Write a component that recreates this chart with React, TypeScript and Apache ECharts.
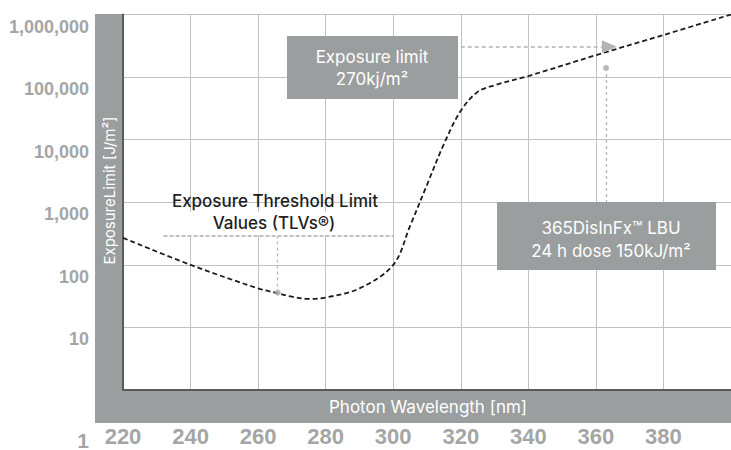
import React, { useEffect, useRef } from 'react';
import * as echarts from 'echarts';

// Photon wavelength [nm] and exposure limit [J/m²]
const wavelengths = [220, 240, 260, 265, 270, 275, 280, 290, 300, 305, 310, 315, 320, 325, 330, 340, 360, 380, 400];
const exposureLimits = [270, 100, 42, 36, 31, 28.5, 30, 42, 100, 420, 1900, 8500, 29000, 58000, 74000, 104000, 224000, 470000, 1000000];

const xTickLabels = ['220', '240', '260', '280', '300', '320', '340', '360', '380'];
const yTickLabels = ['1', '10', '100', '1,000', '10,000', '100,000', '1,000,000'];

// annotation anchors (data coordinates)
const tlvPoint = [265.8, 36];
const tlvBracket = [[232, 288], [300, 288]];
const lbuPoint = [363, 140000];
const lbuBoxTopValue = 1000;
const limitArrow = [[320, 305000], [364, 305000]];

const BAND = '#9b9e9e';
const LABEL = '#a4a6a6';

export default function App() {
  const ref = useRef<HTMLDivElement>(null);
  useEffect(() => {
    if (!ref.current) return;
    const chart = echarts.init(ref.current, null, { renderer: 'svg' });
    const boxFont = '17px Inter, "Noto Sans", sans-serif';
    chart.setOption({
      animation: false,
      grid: { left: 123, top: 14.5, right: 0, bottom: 60, containLabel: false, outerBoundsMode: 'none' },
      xAxis: {
        type: 'value',
        min: 220,
        max: 400,
        interval: 20,
        axisLine: { show: true, lineStyle: { color: '#5a5a5a', width: 2 } },
        axisTick: { show: false },
        splitLine: { show: true, lineStyle: { color: '#c2c2c2', width: 1 } },
        axisLabel: {
          margin: 35,
          color: LABEL,
          fontSize: 22,
          fontWeight: 'bold',
          fontFamily: '"Liberation Sans", Arial, sans-serif',
          formatter: (v: number) => {
            const i = Math.round((v - 220) / 20);
            return xTickLabels[i] ?? '';
          },
        },
      },
      yAxis: {
        type: 'log',
        logBase: 10,
        min: 1,
        max: 1000000,
        axisLine: { show: true, lineStyle: { color: '#5a5a5a', width: 2 } },
        axisTick: { show: false },
        splitLine: { show: true, lineStyle: { color: '#c2c2c2', width: 1 } },
        axisLabel: {
          margin: 34,
          color: LABEL,
          fontSize: 18,
          fontWeight: 'bold',
          verticalAlign: 'top',
          padding: [3, 0, 0, 0],
          fontFamily: '"Liberation Sans", Arial, sans-serif',
          formatter: (v: number) => {
            const i = Math.round(Math.log10(v));
            return i === 0 ? '' : yTickLabels[i] ?? '';
          },
        },
      },
      series: [
        {
          type: 'line',
          data: wavelengths.map((w, i) => [w, exposureLimits[i]]),
          showSymbol: false,
          smooth: 0.35,
          lineStyle: { color: '#1c1c1c', width: 1.8, type: [5, 3] },
          z: 3,
        },
        {
          type: 'scatter',
          data: [tlvPoint, lbuPoint],
          symbolSize: 6,
          itemStyle: { color: '#a9a9a9' },
          z: 4,
          markLine: {
            silent: true,
            symbol: ['none', 'none'],
            label: { show: false },
            lineStyle: { color: '#b5b5b5', type: [3, 3], width: 1.3 },
            data: [
              [{ coord: tlvPoint }, { coord: [tlvPoint[0], tlvBracket[0][1]] }],
              [{ coord: tlvBracket[0], lineStyle: { width: 1.8, color: '#c0c0c0', type: [4, 2] } }, { coord: tlvBracket[1] }],
              [{ coord: lbuPoint }, { coord: [lbuPoint[0], lbuBoxTopValue] }],
              [
                { coord: limitArrow[0], symbol: 'none', lineStyle: { width: 1.5, color: '#b3b3b3', type: [4, 3] } },
                { coord: limitArrow[1], symbol: 'triangle', symbolSize: [13, 15] },
              ],
            ],
          },
        },
      ],
      graphic: [
        { type: 'rect', z: -1, shape: { x: 95, y: 14, width: 28, height: 409 }, style: { fill: BAND } },
        { type: 'rect', z: -1, shape: { x: 95, y: 390, width: 636, height: 33 }, style: { fill: BAND } },
        {
          type: 'text', x: 109.5, y: 190.5, rotation: Math.PI / 2, z: 10,
          style: { text: 'ExposureLimit [J/m²]', fill: '#ffffff', font: '15px Inter, "Noto Sans", sans-serif', align: 'center', verticalAlign: 'middle' },
        },
        {
          type: 'text', x: 428, y: 407, z: 10,
          style: { text: 'Photon Wavelength [nm]', fill: '#ffffff', font: '17px Inter, "Noto Sans", sans-serif', align: 'center', verticalAlign: 'middle' },
        },
        {
          type: 'text', x: 89, y: 440, z: 10,
          style: { text: yTickLabels[0], fill: LABEL, font: 'bold 21px "Liberation Sans", Arial, sans-serif', align: 'right', verticalAlign: 'middle' },
        },
        // Exposure limit box
        { type: 'rect', z: 10, shape: { x: 287, y: 36, width: 171, height: 63 }, style: { fill: BAND } },
        { type: 'text', x: 372, y: 56.5, z: 11, style: { text: 'Exposure limit', fill: '#ffffff', font: boxFont, align: 'center', verticalAlign: 'middle' } },
        { type: 'text', x: 372, y: 78.5, z: 11, style: { text: '270kj/m²', fill: '#ffffff', font: boxFont, align: 'center', verticalAlign: 'middle' } },
        // LBU box
        { type: 'rect', z: 10, shape: { x: 497, y: 202, width: 219, height: 68 }, style: { fill: BAND } },
        { type: 'text', x: 611, y: 228, z: 11, style: { text: '365DisInFx™ LBU', fill: '#ffffff', font: boxFont, align: 'center', verticalAlign: 'middle' } },
        { type: 'text', x: 611, y: 251, z: 11, style: { text: '24 h dose 150kJ/m²', fill: '#ffffff', font: boxFont, align: 'center', verticalAlign: 'middle' } },
        // TLV label
        { type: 'rect', z: 1, shape: { x: 162, y: 212, width: 230, height: 23 }, style: { fill: '#ffffff' } },
        { type: 'text', x: 275, y: 201, z: 11, style: { text: 'Exposure Threshold Limit', fill: '#1e1e1e', font: '500 ' + boxFont, align: 'center', verticalAlign: 'middle' } },
        { type: 'text', x: 274, y: 223, z: 11, style: { text: 'Values (TLVs®)', fill: '#1e1e1e', font: '500 ' + boxFont, align: 'center', verticalAlign: 'middle' } },
      ],
    });
    return () => chart.dispose();
  }, []);
  return <div ref={ref} style={{ position: 'fixed', left: 0, top: 0, width: 731, height: 450, background: '#ffffff' }} />;
}
